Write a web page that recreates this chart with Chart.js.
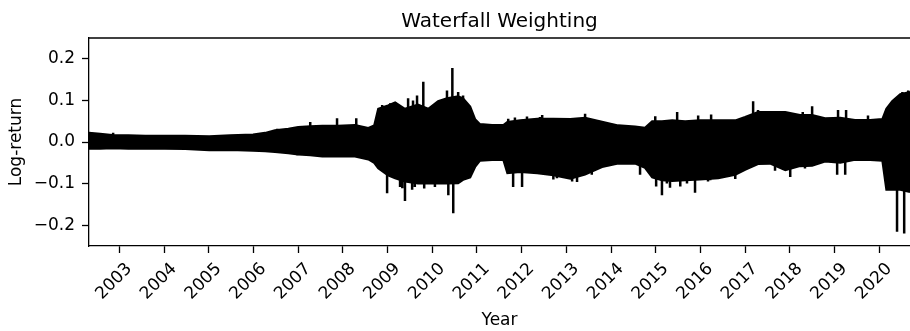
<!DOCTYPE html>
<html>
<head>
  <meta charset="utf-8"/>
  <script src="https://cdn.jsdelivr.net/npm/chart.js@4/dist/chart.umd.min.js"></script>
  <style>
    html, body { margin: 0; padding: 0; background: #fff; overflow: hidden; }
    #wrap { width: 910px; height: 331px; }
  </style>
</head>
<body>
<div id="wrap"><canvas id="c" width="910" height="331"></canvas></div>
<script>
  var titleText = "Waterfall Weighting";
  var xLabel = "Year";
  var yLabel = "Log-return";
  var yearTicks = [2003, 2004, 2005, 2006, 2007, 2008, 2009, 2010, 2011, 2012,
                   2013, 2014, 2015, 2016, 2017, 2018, 2019, 2020];
  var yTicks = [-0.2, -0.1, 0.0, 0.1, 0.2];

  // edge of the dense band of daily returns
  var bandYears = [2002.32, 2002.57, 2002.84, 2003.20, 2003.58, 2004.02, 2004.47, 2005.01,
                   2005.48, 2005.99, 2006.26, 2006.48, 2006.78, 2007.00, 2007.27, 2007.54,
                   2007.89, 2008.27, 2008.57, 2008.70, 2008.79, 2009.01, 2009.17, 2009.39,
                   2009.68, 2009.91, 2010.13, 2010.33, 2010.58, 2010.69, 2010.85, 2010.96,
                   2011.07, 2011.34, 2011.59, 2011.68, 2011.97, 2012.35, 2012.71, 2013.09,
                   2013.42, 2013.80, 2014.16, 2014.54, 2014.76, 2014.92, 2015.14, 2015.37,
                   2015.66, 2015.99, 2016.40, 2016.78, 2017.00, 2017.29, 2017.56, 2017.90,
                   2018.23, 2018.50, 2018.79, 2019.13, 2019.46, 2019.80, 2020.07, 2020.16,
                   2020.29, 2020.47, 2020.69];
  var bandUpper = [0.022, 0.020, 0.017, 0.016, 0.015, 0.015, 0.015, 0.014,
                   0.016, 0.018, 0.022, 0.028, 0.032, 0.036, 0.038, 0.039,
                   0.039, 0.041, 0.034, 0.040, 0.080, 0.088, 0.095, 0.080,
                   0.090, 0.080, 0.098, 0.105, 0.110, 0.105, 0.085, 0.055,
                   0.043, 0.041, 0.041, 0.048, 0.052, 0.056, 0.056, 0.055,
                   0.058, 0.049, 0.040, 0.037, 0.034, 0.050, 0.050, 0.052,
                   0.050, 0.052, 0.052, 0.052, 0.060, 0.072, 0.072, 0.072,
                   0.065, 0.065, 0.057, 0.058, 0.053, 0.053, 0.055, 0.080,
                   0.098, 0.115, 0.120];
  var bandLower = [-0.016, -0.016, -0.015, -0.016, -0.016, -0.016, -0.017, -0.020,
                   -0.019, -0.021, -0.022, -0.024, -0.027, -0.030, -0.032, -0.035,
                   -0.035, -0.035, -0.042, -0.050, -0.063, -0.080, -0.087, -0.095,
                   -0.100, -0.100, -0.100, -0.100, -0.099, -0.091, -0.085, -0.060,
                   -0.045, -0.043, -0.043, -0.075, -0.072, -0.075, -0.080, -0.088,
                   -0.078, -0.060, -0.052, -0.052, -0.062, -0.085, -0.092, -0.094,
                   -0.092, -0.090, -0.087, -0.079, -0.067, -0.053, -0.052, -0.068,
                   -0.058, -0.057, -0.047, -0.050, -0.043, -0.043, -0.045, -0.115,
                   -0.115, -0.115, -0.120];

  // single days that stick out of the band
  var spikeYears = [2002.86, 2006.53, 2006.98, 2007.27, 2007.47, 2007.87, 2008.30, 2008.88,
                    2008.99, 2009.06, 2009.17, 2009.28, 2009.33, 2009.39, 2009.46, 2009.55,
                    2009.57, 2009.61, 2009.66, 2009.80, 2009.82, 2010.06, 2010.33, 2010.36,
                    2010.45, 2010.47, 2010.58, 2010.69, 2010.78, 2011.70, 2011.81, 2011.85,
                    2012.01, 2012.12, 2012.41, 2012.46, 2012.71, 2012.79, 2013.13, 2013.24,
                    2013.42, 2013.57, 2014.65, 2014.99, 2015.01, 2015.14, 2015.25, 2015.32,
                    2015.48, 2015.55, 2015.70, 2015.88, 2015.95, 2016.17, 2016.22, 2016.24,
                    2016.78, 2017.18, 2017.29, 2017.67, 2017.70, 2018.01, 2018.29, 2018.34,
                    2018.50, 2019.06, 2019.08, 2019.24, 2019.26, 2019.75, 2020.40, 2020.52,
                    2020.56, 2020.65];
  var spikeValues = [0.022, 0.032, -0.032, 0.048, -0.036, 0.057, 0.057, 0.089,
                     -0.123, 0.093, 0.096, -0.108, -0.111, -0.142, 0.105, -0.115,
                     0.100, -0.108, 0.112, 0.145, -0.112, -0.108, 0.124, -0.128,
                     0.178, -0.171, 0.120, 0.112, -0.084, 0.056, -0.108, 0.059,
                     -0.108, 0.061, 0.060, 0.065, -0.090, -0.087, -0.095, -0.096,
                     0.068, -0.079, -0.079, 0.062, -0.107, -0.128, -0.100, -0.110,
                     0.072, -0.107, -0.100, -0.122, 0.064, -0.095, -0.092, 0.066,
                     -0.089, 0.098, 0.077, -0.069, 0.067, -0.084, 0.072, -0.064,
                     0.086, -0.079, 0.077, -0.079, 0.077, 0.064, -0.216, 0.120,
                     -0.220, 0.124];

  function pts(xs, ys) {
    return xs.map(function(x, i) { return { x: x, y: ys[i] }; });
  }
  var spikePts = [];
  spikeYears.forEach(function(x, i) {
    spikePts.push({ x: x, y: 0 }, { x: x, y: spikeValues[i] }, { x: x, y: null });
  });

  var font = { family: "'DejaVu Sans', sans-serif", size: 17 };

  var frame = {
    id: 'frame',
    afterDraw: function(chart) {
      var ctx = chart.ctx, a = chart.chartArea;
      ctx.save();
      ctx.strokeStyle = '#000';
      ctx.lineWidth = 1.3;
      ctx.beginPath();
      ctx.moveTo(a.left, a.top);
      ctx.lineTo(a.right + 2, a.top);
      ctx.stroke();
      ctx.fillStyle = '#000';
      ctx.font = "20px 'DejaVu Sans', sans-serif";
      ctx.textAlign = 'center';
      ctx.textBaseline = 'alphabetic';
      ctx.fillText(titleText, (a.left + a.right) / 2, 27);
      ctx.restore();
    }
  };

  new Chart(document.getElementById('c'), {
    type: 'line',
    data: {
      datasets: [
        { data: pts(bandYears, bandUpper), borderColor: '#000', backgroundColor: '#000',
          borderWidth: 2, fill: '+1', pointRadius: 0, tension: 0 },
        { data: pts(bandYears, bandLower), borderColor: '#000', backgroundColor: '#000',
          borderWidth: 2, fill: false, pointRadius: 0, tension: 0 },
        { data: spikePts, borderColor: '#000', borderWidth: 2.5, fill: false,
          pointRadius: 0, spanGaps: false }
      ]
    },
    options: {
      responsive: false,
      devicePixelRatio: 1,
      animation: false,
      events: [],
      layout: { padding: { top: 38, left: 0, right: 0, bottom: 0 } },
      plugins: { legend: { display: false }, tooltip: { enabled: false } },
      scales: {
        x: {
          type: 'linear',
          min: 2002.32,
          max: 2020.69,
          afterFit: function(s) { s.height = 85; },
          afterBuildTicks: function(s) {
            s.ticks = yearTicks.map(function(v) { return { value: v }; });
          },
          ticks: {
            autoSkip: false, minRotation: 45, maxRotation: 45,
            color: '#000', font: font, padding: 6, labelOffset: 10,
            callback: function(v) { return String(v); }
          },
          grid: { drawOnChartArea: false, drawTicks: true, tickLength: 7,
                  tickColor: '#000', tickWidth: 1.3 },
          border: { display: true, color: '#000', width: 1.3 },
          title: { display: true, text: xLabel, color: '#000', font: font,
                   padding: { top: 0, bottom: 0 } }
        },
        y: {
          min: -0.25,
          max: 0.25,
          afterFit: function(s) { s.width = 89; },
          afterBuildTicks: function(s) {
            s.ticks = yTicks.map(function(v) { return { value: v }; });
          },
          ticks: {
            color: '#000', font: font, padding: 7,
            callback: function(v) {
              var t = Math.abs(v).toFixed(1);
              return v < -1e-9 ? '\u2212' + t : t;
            }
          },
          grid: { drawOnChartArea: false, drawTicks: true, tickLength: 7,
                  tickColor: '#000', tickWidth: 1.3 },
          border: { display: true, color: '#000', width: 1.3 },
          title: { display: true, text: yLabel, color: '#000', font: font,
                   padding: { top: 6, bottom: 0 } }
        }
      }
    },
    plugins: [frame]
  });
</script>
</body>
</html>
